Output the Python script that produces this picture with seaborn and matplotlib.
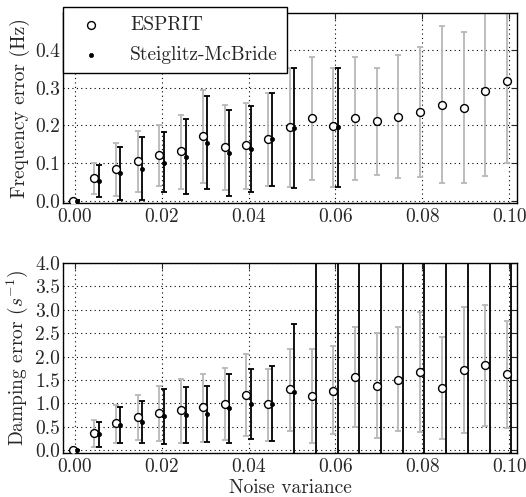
import numpy as np
import pandas as pd
import matplotlib
matplotlib.use("Agg")
import matplotlib.pyplot as plt
import seaborn as sns

# noise levels (x axis)
noise = [0.000, 0.005, 0.010, 0.015, 0.020, 0.025, 0.030, 0.035, 0.040, 0.045, 0.050,
         0.055, 0.060, 0.065, 0.070, 0.075, 0.080, 0.085, 0.090, 0.095, 0.100]
nan = np.nan

# frequency error (Hz)
freq_esprit = [0.001, 0.060, 0.085, 0.105, 0.121, 0.132, 0.171, 0.143, 0.147, 0.163, 0.196,
               0.220, 0.198, 0.220, 0.212, 0.223, 0.236, 0.253, 0.247, 0.292, 0.317]
freq_esprit_lo = [0.000, 0.020, 0.014, 0.023, 0.040, 0.033, 0.047, 0.029, 0.033, 0.041, 0.037,
                  0.056, 0.037, 0.056, 0.070, 0.061, 0.065, 0.049, 0.049, 0.067, 0.101]
freq_esprit_hi = [0.002, 0.101, 0.153, 0.186, 0.200, 0.228, 0.294, 0.254, 0.258, 0.285, 0.352,
                  0.382, 0.352, 0.382, 0.353, 0.385, 0.407, 0.462, 0.446, 0.560, 0.580]
freq_smb = [0.001, 0.053, 0.073, 0.086, 0.102, 0.117, 0.154, 0.128, 0.138, 0.164, 0.192,
            nan, 0.195, nan, nan, nan, nan, nan, nan, nan, nan]
freq_smb_lo = [0.000, 0.011, 0.004, 0.004, 0.023, 0.020, 0.031, 0.014, 0.025, 0.041, 0.034,
               nan, 0.037, nan, nan, nan, nan, nan, nan, nan, nan]
freq_smb_hi = [0.002, 0.095, 0.144, 0.170, 0.183, 0.216, 0.278, 0.241, 0.252, 0.285, 0.351,
               nan, 0.352, nan, nan, nan, nan, nan, nan, nan, nan]

# damping error (1/s)
damp_esprit = [0.00, 0.37, 0.59, 0.70, 0.79, 0.85, 0.92, 0.99, 1.19, 0.99, 1.30,
               1.16, 1.27, 1.57, 1.38, 1.51, 1.67, 1.33, 1.71, 1.82, 1.63]
damp_esprit_lo = [0.00, 0.06, 0.16, 0.22, 0.19, 0.15, 0.18, 0.22, 0.31, 0.20, 0.42,
                  0.16, 0.34, 0.50, 0.27, 0.41, 0.39, 0.23, 0.36, 0.52, 0.47]
damp_esprit_hi = [0.00, 0.65, 0.97, 1.17, 1.37, 1.53, 1.62, 1.76, 2.05, 1.74, 2.16,
                  2.16, 2.22, 2.63, 2.51, 2.63, 2.96, 2.42, 3.06, 3.10, 2.77]
damp_smb = [0.00, 0.34, 0.54, 0.61, 0.72, 0.75, 0.77, 0.90, 0.99, 0.99, 1.24,
            6.0, 6.0, 6.0, 6.0, 6.0, 6.0, 6.0, 6.0, 6.0, 6.0]
damp_smb_lo = [0.00, 0.06, 0.16, 0.15, 0.14, 0.15, 0.17, 0.16, 0.24, 0.19, -0.50,
               -1.0, -1.0, -1.0, -1.0, -1.0, -1.0, -1.0, -1.0, -1.0, -1.0]
damp_smb_hi = [0.00, 0.61, 0.93, 1.06, 1.31, 1.36, 1.38, 1.62, 1.74, 1.80, 2.70,
               13.0, 13.0, 13.0, 13.0, 13.0, 13.0, 13.0, 13.0, 13.0, 13.0]

sns.set_style("white")
plt.rcParams['font.family'] = ['cmr10', 'DejaVu Serif']
plt.rcParams['mathtext.fontset'] = 'cm'
plt.rcParams['axes.formatter.use_mathtext'] = True
plt.rcParams['axes.unicode_minus'] = False
plt.rcParams['axes.edgecolor'] = 'black'
plt.rcParams['axes.linewidth'] = 1.0

FS = 14
shift = 0.0005
fig = plt.figure(figsize=(5.26, 4.97), dpi=100)
ax1 = fig.add_axes([63 / 526, 1 - 203 / 497, 454 / 526, 190 / 497])
ax2 = fig.add_axes([63 / 526, 1 - 453 / 497, 454 / 526, 190 / 497])


def draw(ax, esp, esp_lo, esp_hi, smb, smb_lo, smb_hi):
    x = np.array(noise)
    esp, esp_lo, esp_hi = map(np.array, (esp, esp_lo, esp_hi))
    smb, smb_lo, smb_hi = map(np.array, (smb, smb_lo, smb_hi))
    ax.grid(True, color='black', linestyle=(0, (1, 3)), linewidth=0.8)
    ax.set_axisbelow(True)
    ax.errorbar(x - shift, esp, yerr=[esp - esp_lo, esp_hi - esp], fmt='none',
                ecolor='#b8b8b8', elinewidth=1.3, capsize=2.5, capthick=1.3, zorder=2)
    ax.errorbar(x + shift, smb, yerr=[smb - smb_lo, smb_hi - smb], fmt='none',
                ecolor='black', elinewidth=1.3, capsize=2.5, capthick=1.3, zorder=3)
    df_e = pd.DataFrame({'x': x - shift, 'y': esp})
    df_s = pd.DataFrame({'x': x + shift, 'y': smb})
    sns.scatterplot(data=df_e, x='x', y='y', ax=ax, marker='o', s=32, facecolor='white',
                    edgecolor='black', linewidth=1.0, zorder=4, label='ESPRIT')
    sns.scatterplot(data=df_s, x='x', y='y', ax=ax, marker='o', s=9, color='black',
                    edgecolor='black', linewidth=0.5, zorder=5, label='Steiglitz-McBride')
    ax.set_xlim(-0.0027, 0.1018)
    ax.set_xticks([0.0, 0.02, 0.04, 0.06, 0.08, 0.10])
    ax.set_xticklabels(['0.00', '0.02', '0.04', '0.06', '0.08', '0.10'])
    ax.tick_params(direction='in', top=True, right=True, length=4, width=0.8,
                   labelsize=FS)
    ax.tick_params(axis='y', pad=2)
    ax.tick_params(axis='x', pad=4)
    ax.set_xlabel('')


draw(ax1, freq_esprit, freq_esprit_lo, freq_esprit_hi, freq_smb, freq_smb_lo, freq_smb_hi)
ax1.set_ylim(-0.005, 0.497)
ax1.set_yticks([0.0, 0.1, 0.2, 0.3, 0.4])
ax1.set_yticklabels(['0.0', '0.1', '0.2', '0.3', '0.4'])
ax1.set_ylabel('Frequency error (Hz)', fontsize=FS)
ax1.get_legend().remove()

draw(ax2, damp_esprit, damp_esprit_lo, damp_esprit_hi, damp_smb, damp_smb_lo, damp_smb_hi)
ax2.set_ylim(-0.06, 4.0)
yt = [0.0, 0.5, 1.0, 1.5, 2.0, 2.5, 3.0, 3.5, 4.0]
ax2.set_yticks(yt)
ax2.set_yticklabels([f'{v:.1f}' for v in yt])
ax2.set_ylabel('Damping error ($s^{-1}$)', fontsize=FS)
ax2.set_xlabel('Noise variance', fontsize=FS, labelpad=2)
ax2.get_legend().remove()

handles, labels = ax1.get_legend_handles_labels()
leg = ax1.legend(handles, labels, loc='upper left', bbox_to_anchor=(63 / 526, 1 - 7 / 497),
                 bbox_transform=fig.transFigure, borderaxespad=0, fontsize=FS,
                 frameon=True, fancybox=False, framealpha=1, edgecolor='black',
                 handletextpad=1.0, borderpad=0.45, labelspacing=0.65, handlelength=2.0)
leg.get_frame().set_linewidth(1.0)
leg.set_zorder(10)

ax1.yaxis.set_label_coords(-0.072, 0.5)
ax2.yaxis.set_label_coords(-0.072, 0.5)

fig.savefig('out.png', dpi=100)
